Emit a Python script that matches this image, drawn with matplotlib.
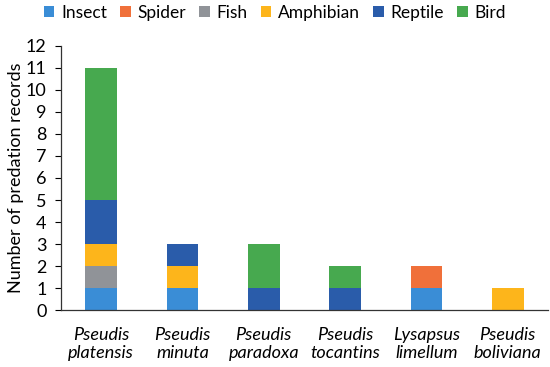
import matplotlib
matplotlib.use("Agg")
import matplotlib.pyplot as plt
import numpy as np

species = ["Pseudis\nplatensis", "Pseudis\nminuta", "Pseudis\nparadoxa",
           "Pseudis\ntocantins", "Lysapsus\nlimellum", "Pseudis\nboliviana"]
prey = ["Insect", "Spider", "Fish", "Amphibian", "Reptile", "Bird"]
insect = [1, 1, 0, 0, 1, 0]
spider = [0, 0, 0, 0, 1, 0]
fish = [1, 0, 0, 0, 0, 0]
amphibian = [1, 1, 0, 0, 0, 1]
reptile = [2, 1, 1, 1, 0, 0]
bird = [6, 0, 2, 1, 0, 0]
series = [insect, spider, fish, amphibian, reptile, bird]
colors = ["#3a8dd6", "#f0703a", "#909398", "#fdb51b", "#2a5caa", "#47a94f"]

plt.rcParams['font.family'] = ['Lato', 'DejaVu Sans']
fig = plt.figure(figsize=(5.5, 3.67), dpi=100)
ax = fig.add_axes([0.11, 0.155, 0.887, 0.72])

x = np.arange(len(species))
bottom = np.zeros(len(species))
for name, vals, c in zip(prey, series, colors):
    ax.bar(x, vals, width=0.39, bottom=bottom, color=c, label=name)
    bottom += np.array(vals)

ax.set_xlim(-0.5, 5.5)
ax.set_ylim(0, 12)
ax.set_yticks(range(0, 13))
ax.tick_params(axis='y', labelsize=13, length=4, direction='out', width=0.8, pad=6)
ax.tick_params(axis='x', length=0, pad=12)
ax.set_xticks(x)
ax.set_xticklabels(species, fontsize=13, style='italic', linespacing=1.15)
ax.set_ylabel("Number of predation records", fontsize=13, labelpad=1)
for s in ['top', 'right']:
    ax.spines[s].set_visible(False)
for s in ['left', 'bottom']:
    ax.spines[s].set_color('#333333')
    ax.spines[s].set_linewidth(0.9)

fig.legend(loc='upper center', bbox_to_anchor=(0.5, 1.03), ncol=6, frameon=False,
           fontsize=12.5, handlelength=0.6, handleheight=0.6, handletextpad=0.4,
           columnspacing=0.75)

fig.savefig("out.png", dpi=100)
